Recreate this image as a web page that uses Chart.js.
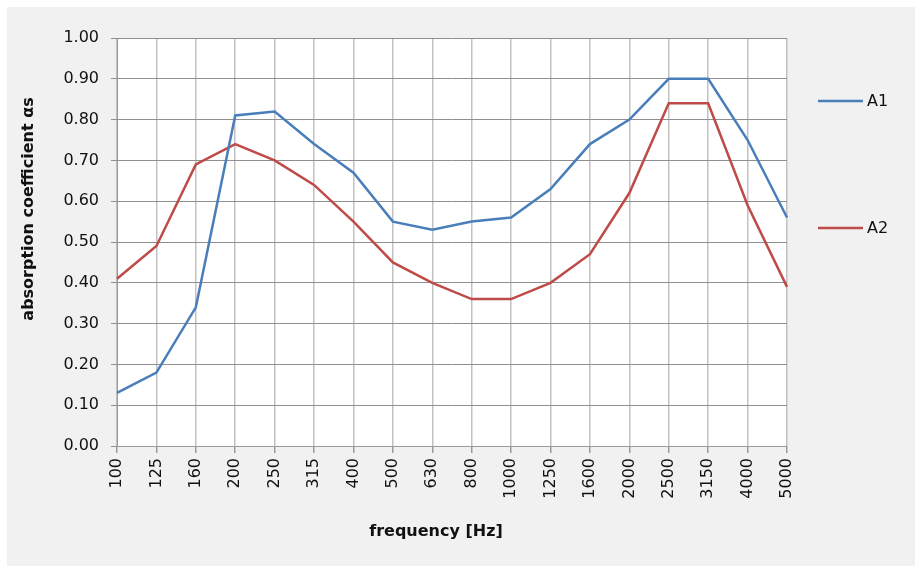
<!DOCTYPE html>
<html>
<head>
<meta charset="utf-8">
<script src="https://cdn.jsdelivr.net/npm/chart.js@4"></script>
<style>
  html, body { margin: 0; padding: 0; background: #fff; }
  #wrap { width: 920px; height: 569px; position: relative; }
</style>
</head>
<body>
<div id="wrap"><canvas id="chart"></canvas></div>
<script>
// Chart data
const frequencies = ['100', '125', '160', '200', '250', '315', '400', '500', '630', '800',
                     '1000', '1250', '1600', '2000', '2500', '3150', '4000', '5000'];
const a1Values = [0.13, 0.18, 0.34, 0.81, 0.82, 0.74, 0.67, 0.55, 0.53, 0.55,
                  0.56, 0.63, 0.74, 0.80, 0.90, 0.90, 0.75, 0.56];
const a2Values = [0.41, 0.49, 0.69, 0.74, 0.70, 0.64, 0.55, 0.45, 0.40, 0.36,
                  0.36, 0.40, 0.47, 0.62, 0.84, 0.84, 0.59, 0.39];
const seriesNames = ['A1', 'A2'];
const xTitle = 'frequency [Hz]';
const yTitle = 'absorption coefficient \u03b1s';

const FONT = '"DejaVu Sans", sans-serif';

// Background panel + white plot area, titles and the side legend
const decorPlugin = {
    id: 'decor',
    beforeDraw(chart) {
        const ctx = chart.ctx;
        const a = chart.chartArea;
        ctx.save();
        ctx.fillStyle = '#f1f1f1';
        ctx.fillRect(7, 7, 908, 559);
        ctx.fillStyle = '#ffffff';
        ctx.fillRect(a.left, a.top, a.right - a.left, a.bottom - a.top);
        ctx.restore();
    },
    afterDraw(chart) {
        const ctx = chart.ctx;
        ctx.save();
        ctx.fillStyle = '#111';
        ctx.font = 'bold 16px ' + FONT;
        ctx.textAlign = 'center';
        ctx.textBaseline = 'middle';
        ctx.fillText(xTitle, 436, 532);

        ctx.translate(29, 209);
        ctx.rotate(-Math.PI / 2);
        ctx.fillText(yTitle, 0, 0);
        ctx.restore();

        // legend
        const legendY = [101, 228];
        ctx.save();
        ctx.font = '16px ' + FONT;
        ctx.textBaseline = 'middle';
        ctx.textAlign = 'left';
        chart.data.datasets.forEach((ds, i) => {
            ctx.strokeStyle = ds.borderColor;
            ctx.lineWidth = 2.5;
            ctx.beginPath();
            ctx.moveTo(818, legendY[i]);
            ctx.lineTo(863, legendY[i]);
            ctx.stroke();
            ctx.fillStyle = '#111';
            ctx.fillText(ds.label, 867, legendY[i] + 1);
        });
        ctx.restore();
    }
};

const ctx = document.getElementById('chart').getContext('2d');
new Chart(ctx, {
    type: 'line',
    data: {
        labels: frequencies,
        datasets: [
            { label: seriesNames[0], data: a1Values, borderColor: '#4a7ebb', borderWidth: 2.5 },
            { label: seriesNames[1], data: a2Values, borderColor: '#be4b48', borderWidth: 2.5 }
        ]
    },
    options: {
        responsive: true,
        maintainAspectRatio: false,
        animation: false,
        layout: { padding: { left: 0, top: 38, right: 133, bottom: 0 } },
        elements: {
            point: { radius: 0, hoverRadius: 0 },
            line: { tension: 0 }
        },
        plugins: {
            legend: { display: false },
            tooltip: { enabled: false }
        },
        scales: {
            x: {
                offset: false,
                grid: { color: '#c2c2c2', lineWidth: 1.5, tickLength: 7, tickColor: '#9a9a9a' },
                border: { color: '#9a9a9a', width: 1 },
                ticks: {
                    color: '#111',
                    font: { family: FONT, size: 16 },
                    maxRotation: 90,
                    minRotation: 90,
                    padding: 5,
                    autoSkip: false
                },
                afterFit(scale) { scale.height = 123; }
            },
            y: {
                min: 0,
                max: 1,
                grid: { color: '#8f8f8f', lineWidth: 1, tickLength: 6, tickColor: '#8f8f8f' },
                border: { color: '#9a9a9a', width: 1 },
                ticks: {
                    stepSize: 0.1,
                    color: '#111',
                    font: { family: FONT, size: 16 },
                    padding: 12,
                    callback: v => v.toFixed(2)
                },
                afterFit(scale) { scale.width = 117; }
            }
        }
    },
    plugins: [decorPlugin]
});
</script>
</body>
</html>
